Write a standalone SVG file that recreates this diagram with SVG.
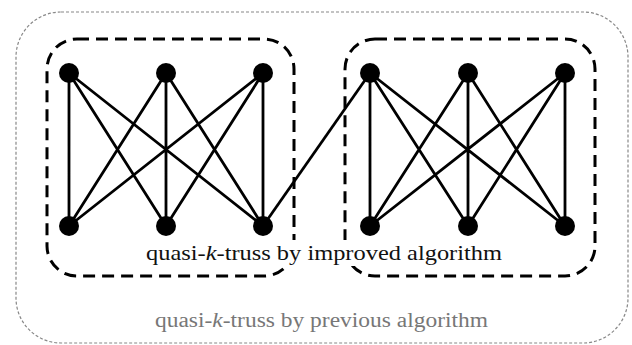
<svg xmlns="http://www.w3.org/2000/svg" width="632" height="345" viewBox="0 0 632 345">
<style>
.outer{fill:none;stroke:#888;stroke-width:1.2;stroke-dasharray:3 2}
.grp{fill:none;stroke:#000;stroke-width:3;stroke-dasharray:12 7}
.edge{stroke:#000;stroke-width:2.8;fill:none}
.node{fill:#000}
.t1{font-family:"Liberation Serif",serif;font-size:21px;fill:#111}
.t2{font-family:"Liberation Serif",serif;font-size:20px;fill:#777}
</style>
<rect id="outer" class="outer" x="16" y="12" width="612" height="331" rx="45" ry="45"/>
<rect id="group-left" class="grp" x="47" y="39" width="247" height="237" rx="30" ry="30"/>
<rect id="group-right" class="grp" x="345" y="39" width="250" height="237" rx="30" ry="30"/>
<g id="connectors">
<path class="edge" d="M69 73L69 226M69 73L166 226M69 73L263 226M166 73L69 226M166 73L166 226M166 73L263 226M263 73L69 226M263 73L166 226M263 73L263 226"/>
<path class="edge" d="M370 73L370 226M370 73L468 226M370 73L565 226M468 73L370 226M468 73L468 226M468 73L565 226M565 73L370 226M565 73L468 226M565 73L565 226"/>
<path class="edge" d="M263 226L370 73"/>
</g>
<g id="n1"><circle class="node" cx="69" cy="73" r="10"/></g>
<g id="n2"><circle class="node" cx="166" cy="73" r="10"/></g>
<g id="n3"><circle class="node" cx="263" cy="73" r="10"/></g>
<g id="n4"><circle class="node" cx="69" cy="226" r="10"/></g>
<g id="n5"><circle class="node" cx="166" cy="226" r="10"/></g>
<g id="n6"><circle class="node" cx="263" cy="226" r="10"/></g>
<g id="n7"><circle class="node" cx="370" cy="73" r="10"/></g>
<g id="n8"><circle class="node" cx="468" cy="73" r="10"/></g>
<g id="n9"><circle class="node" cx="565" cy="73" r="10"/></g>
<g id="n10"><circle class="node" cx="370" cy="226" r="10"/></g>
<g id="n11"><circle class="node" cx="468" cy="226" r="10"/></g>
<g id="n12"><circle class="node" cx="565" cy="226" r="10"/></g>
<rect x="144" y="240" width="360" height="26" fill="#fff"/>
<text class="t1" x="146" y="260" textLength="356" lengthAdjust="spacingAndGlyphs">quasi-<tspan font-style="italic">k</tspan>-truss by improved algorithm</text>
<text class="t2" x="155" y="327" textLength="333" lengthAdjust="spacingAndGlyphs">quasi-<tspan font-style="italic">k</tspan>-truss by previous algorithm</text>
</svg>
